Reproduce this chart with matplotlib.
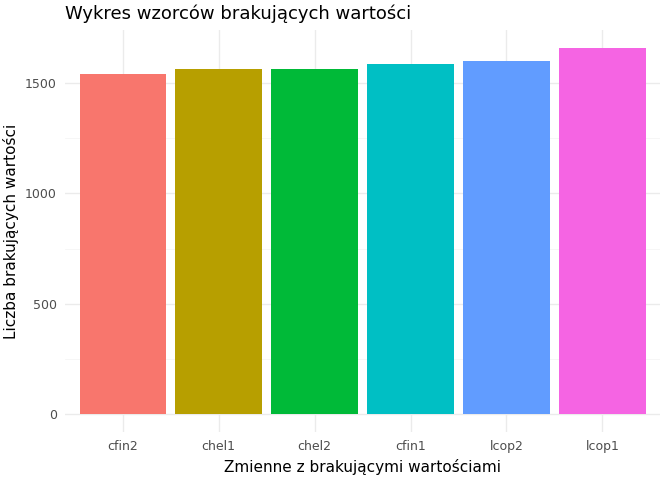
import matplotlib.pyplot as plt
import numpy as np

categories = ['cfin2', 'chel1', 'chel2', 'cfin1', 'lcop2', 'lcop1']
missing = [1541, 1563, 1563, 1586, 1600, 1660]
colors = ['#F8766D', '#B79F00', '#00BA38', '#00BFC4', '#619CFF', '#F564E3']

fig = plt.figure(figsize=(6.72, 4.8), dpi=100)
ax = fig.add_axes([0.097, 0.1, 0.885, 0.838])

x = np.arange(len(categories))
ax.bar(x, missing, width=0.9, color=colors, zorder=2)

ymax = max(missing)
ax.set_ylim(-0.05 * ymax, 1.05 * ymax)
ax.set_xlim(-0.6, len(categories) - 0.4)
ax.set_xticks(x)
ax.set_xticklabels(categories)
ax.set_yticks([0, 500, 1000, 1500])
ax.set_yticks([250, 750, 1250], minor=True)
ax.set_xticks([], minor=True)

ax.grid(True, which='major', color='#EBEBEB', linewidth=1.0, zorder=0)
ax.grid(True, which='minor', axis='y', color='#F5F5F5', linewidth=0.6, zorder=0)
for s in ax.spines.values():
    s.set_visible(False)
ax.tick_params(axis='both', which='both', length=0, labelsize=9, colors='#4D4D4D', pad=6)

ax.set_xlabel('Zmienne z brakującymi wartościami', fontsize=11, labelpad=4)
ax.set_ylabel('Liczba brakujących wartości', fontsize=11, labelpad=4)
ax.set_title('Wykres wzorców brakujących wartości', fontsize=13, loc='left', pad=8)

fig.savefig('out.png', dpi=100)
